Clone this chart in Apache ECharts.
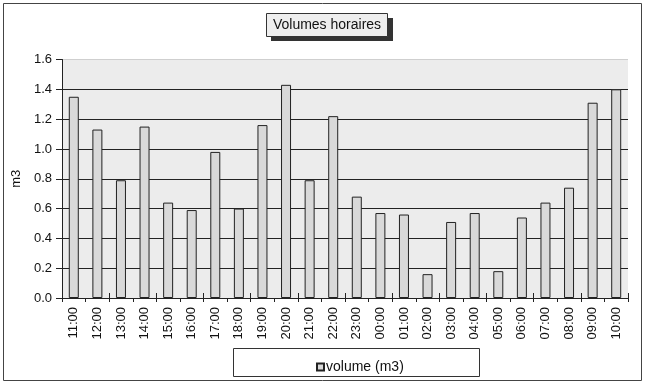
<!DOCTYPE html>
<html>
<head>
<meta charset="utf-8">
<script src="https://cdn.jsdelivr.net/npm/echarts@6/dist/echarts.min.js"></script>
<style>
  html, body { margin: 0; padding: 0; background: #fff; }
  #chart { width: 645px; height: 383px; }
</style>
</head>
<body>
<div id="chart"></div>
<script>
// Hourly volume readings, starting at 11:00
const hours = ['11:00','12:00','13:00','14:00','15:00','16:00','17:00','18:00','19:00','20:00','21:00','22:00',
               '23:00','00:00','01:00','02:00','03:00','04:00','05:00','06:00','07:00','08:00','09:00','10:00'];
const volumes = [1.35, 1.13, 0.79, 1.15, 0.64, 0.59, 0.98, 0.60, 1.16, 1.43, 0.79, 1.22,
                 0.68, 0.57, 0.56, 0.16, 0.51, 0.57, 0.18, 0.54, 0.64, 0.74, 1.31, 1.40];
const yTicks = [0, 0.2, 0.4, 0.6, 0.8, 1.0, 1.2, 1.4, 1.6];

const font = 'Liberation Sans, Arial, sans-serif';
const chart = echarts.init(document.getElementById('chart'), null, { renderer: 'canvas' });

chart.setOption({
  animation: false,
  backgroundColor: '#ffffff',
  graphic: [
    // outer frame
    { type: 'rect', shape: { x: 3.5, y: 3.5, width: 638, height: 377 },
      style: { fill: 'none', stroke: '#444', lineWidth: 1 }, z: 0 },
    // title box with drop shadow
    { type: 'rect', shape: { x: 271, y: 18, width: 122, height: 23 },
      style: { fill: '#333' }, z: 10 },
    { type: 'rect', shape: { x: 266.5, y: 13.5, width: 121, height: 23 },
      style: { fill: '#eeeeee', stroke: '#333', lineWidth: 1 }, z: 11 },
    { type: 'text', x: 327, y: 25,
      style: { text: 'Volumes horaires', font: '14px ' + font, fill: '#111',
               align: 'center', verticalAlign: 'middle' }, z: 12 },
    // legend frame
    { type: 'rect', shape: { x: 233.5, y: 348.5, width: 246, height: 28 },
      style: { fill: '#fff', stroke: '#333', lineWidth: 1 }, z: 5 }
  ],
  legend: {
    data: ['volume (m3)'],
    left: 311,
    top: 355,
    itemWidth: 7,
    itemHeight: 7,
    itemGap: 4,
    icon: 'rect',
    textStyle: { fontFamily: font, fontSize: 14, color: '#111', padding: [0, 0, 0, -3] },
    z: 20
  },
  grid: {
    left: 62, right: 17, top: 59.5, bottom: 85,
    show: true, backgroundColor: '#ececec', borderWidth: 0
  },
  xAxis: [{
    type: 'category',
    data: hours,
    axisLine: { lineStyle: { color: '#222', width: 1 } },
    axisTick: { show: true, length: 4, lineStyle: { color: '#222' } },
    axisLabel: { rotate: 90, fontFamily: font, fontSize: 13, color: '#111', margin: 9 }
  }, {
    // inner half of the crossing tick marks
    type: 'category',
    data: hours,
    position: 'bottom',
    axisLine: { show: false },
    axisTick: { show: true, inside: true, length: 5, lineStyle: { color: '#222' } },
    axisLabel: { show: false },
    splitLine: { show: false }
  }],
  yAxis: {
    type: 'value',
    min: yTicks[0],
    max: yTicks[yTicks.length - 1],
    interval: 0.2,
    name: 'm3',
    nameLocation: 'middle',
    nameGap: 33,
    nameRotate: 90,
    nameTextStyle: { fontFamily: font, fontSize: 13, color: '#111' },
    axisLine: { show: true, lineStyle: { color: '#222', width: 1 } },
    axisTick: { show: true, length: 6, lineStyle: { color: '#222' } },
    axisLabel: { fontFamily: font, fontSize: 13, color: '#111', margin: 10,
                 formatter: v => v.toFixed(1) },
    splitLine: { show: true, lineStyle: {
      color: ['#222', '#222', '#222', '#222', '#222', '#222', '#222', '#222', '#cfcfcf'],
      width: 1 } }
  },
  series: [{
    name: 'volume (m3)',
    type: 'bar',
    data: volumes,
    barWidth: 10,
    itemStyle: { color: '#d9d9d9', borderColor: '#222', borderWidth: 1 }
  }]
});
</script>
</body>
</html>
